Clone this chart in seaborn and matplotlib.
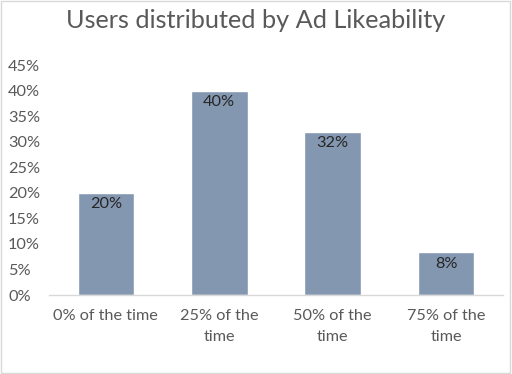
import matplotlib
matplotlib.use("Agg")
import matplotlib.pyplot as plt
import seaborn as sns
import pandas as pd
from matplotlib.patches import Rectangle
from matplotlib.ticker import FuncFormatter

categories = ["0% of the time", "25% of the time", "50% of the time", "75% of the time"]
tick_labels = ["0% of the time", "25% of the\ntime", "50% of the\ntime", "75% of the\ntime"]
values = [0.20, 0.40, 0.32, 0.084]
value_labels = ["20%", "40%", "32%", "8%"]

df = pd.DataFrame({"cat": categories, "val": values})

sns.set_theme(style="white")
plt.rcParams['font.family'] = ['Lato', 'DejaVu Sans']

fig = plt.figure(figsize=(5.12, 3.74), dpi=100)
ax = fig.add_axes([0.096, 0.211, 0.886, 0.615])

sns.barplot(data=df, x="cat", y="val", color="#8497B0", saturation=1, width=0.5, ax=ax)

ax.set_ylim(0, 0.45)
ax.set_yticks([i * 0.05 for i in range(10)])
ax.yaxis.set_major_formatter(FuncFormatter(lambda v, p: f"{round(v*100)}%"))
ax.set_xticks(range(len(categories)))
ax.set_xticklabels(tick_labels, linespacing=1.6)
ax.tick_params(axis='both', colors="#595959", labelsize=11.7, length=0)
ax.tick_params(axis='x', pad=10)
for lab in ax.get_yticklabels():
    lab.set_horizontalalignment('left')
ax.yaxis.set_tick_params(pad=29.5)

for s in ["top", "right", "left"]:
    ax.spines[s].set_visible(False)
ax.spines["bottom"].set_color("#D9D9D9")
ax.spines["bottom"].set_linewidth(1)
ax.set_xlabel("")
ax.set_ylabel("")

for i, (v, t) in enumerate(zip(values, value_labels)):
    ax.text(i, v - 0.009, t, ha="center", va="top", fontsize=11.7, color="#262626")

fig.text(0.5, 0.945, "Users distributed by Ad Likeability", ha="center", va="center",
         fontsize=18.2, color="#595959")

fig.patches.append(Rectangle((0.002, 0.003), 0.995, 0.994, transform=fig.transFigure,
                             fill=False, edgecolor="#D9D9D9", linewidth=1))

fig.savefig("out.png", dpi=100)
